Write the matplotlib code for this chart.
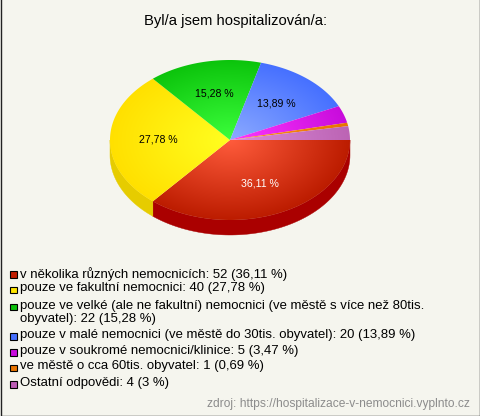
import numpy as np
import matplotlib
matplotlib.use("Agg")
import matplotlib.pyplot as plt
from matplotlib.path import Path
from matplotlib.patches import PathPatch, Rectangle

title = "Byl/a jsem hospitalizován/a:"
source = "zdroj: https://hospitalizace-v-nemocnici.vyplnto.cz"
labels = ["v několika různých nemocnicích: 52 (36,11 %)",
          "pouze ve fakultní nemocnici: 40 (27,78 %)",
          "pouze ve velké (ale ne fakultní) nemocnici (ve městě s více než 80tis.\nobyvatel): 22 (15,28 %)",
          "pouze v malé nemocnici (ve městě do 30tis. obyvatel): 20 (13,89 %)",
          "pouze v soukromé nemocnici/klinice: 5 (3,47 %)",
          "ve městě o cca 60tis. obyvatel: 1 (0,69 %)",
          "Ostatní odpovědi: 4 (3 %)"]
values = [52, 40, 22, 20, 5, 1, 4]
pct_labels = ["36,11 %", "27,78 %", "15,28 %", "13,89 %", "", "", ""]
pct_colors = ["white", "black", "black", "black", "black", "black", "black"]
inner = ["#FF5C3C", "#FFFF20", "#3CFF3C", "#8CAAFF", "#FF38FF", "#FF9020", "#DC8CDC"]
outer = ["#BC1C00", "#FFE000", "#0CC40C", "#4670FF", "#C80CDC", "#E87400", "#BC64B4"]
side = ["#AA0000", "#E6CC00", "#0A9A0A", "#3355CC", "#A000B0", "#C06000", "#964F90"]
swatch = ["#C01C00", "#FFE600", "#0CC00C", "#4670FF", "#C80CDC", "#E87400", "#BC5CB4"]
label_y = [274.5, 290, 307, 336.5, 352.5, 368, 384.5]
BG = "#F5F5EE"

W, H = 480, 416
fig = plt.figure(figsize=(W/100, H/100), dpi=100, facecolor=BG)
ax = fig.add_axes([0, 0, 1, 1])
ax.set_xlim(0, W); ax.set_ylim(H, 0); ax.axis("off")
plt.rcParams["font.family"] = ["Liberation Sans", "DejaVu Sans"]

cx, cy, rx, ry, depth = 230, 140, 120, 80, 15
frac = np.array(values, float) / sum(values)
edges = np.concatenate([[0], np.cumsum(frac)]) * 2*np.pi

def hexrgb(c):
    return np.array(matplotlib.colors.to_rgb(c))

# side wall
for i in range(len(values)):
    a0, a1 = edges[i], min(edges[i+1], np.pi)
    if a0 >= np.pi:
        continue
    t = np.linspace(a0, a1, 80)
    xs = cx + rx*np.cos(t); ys = cy + ry*np.sin(t)
    pts = np.r_[np.c_[xs, ys], np.c_[xs, ys+depth][::-1]]
    ax.fill(pts[:, 0], pts[:, 1], color=side[i], lw=0.3, zorder=1)

# top slices with radial gradient
yy, xx = np.mgrid[cy-ry-2:cy+ry+2:400j, cx-rx-2:cx+rx+2:600j]
d = np.clip(np.hypot((xx-cx)/rx, (yy-cy)/ry), 0, 1)[..., None]
for i in range(len(values)):
    t = np.linspace(edges[i], edges[i+1], 120)
    pts = np.r_[[[cx, cy]], np.c_[cx+rx*np.cos(t), cy+ry*np.sin(t)], [[cx, cy]]]
    patch = PathPatch(Path(pts), fc="none", ec="none", transform=ax.transData)
    ax.add_patch(patch)
    img = hexrgb(inner[i])*(1-d) + hexrgb(outer[i])*d
    im = ax.imshow(img, extent=(cx-rx-2, cx+rx+2, cy+ry+2, cy-ry-2), zorder=2,
                   interpolation="bilinear", aspect="auto")
    im.set_clip_path(patch)
ax.set_xlim(0, W); ax.set_ylim(H, 0)

# percentage labels
for i, s in enumerate(pct_labels):
    if not s:
        continue
    m = (edges[i]+edges[i+1])/2
    ax.text(cx+rx*0.6*np.cos(m), cy+ry*0.6*np.sin(m), s, color=pct_colors[i],
            fontsize=7.6, ha="center", va="center", zorder=3, family="Liberation Sans")

ax.text(236, 21, title, fontsize=10.6, ha="center", va="center", color="black",
        family="Liberation Sans")
for s, y, c in zip(labels, label_y, swatch):
    ax.add_patch(Rectangle((10, y-3.5), 6.5, 6.5, fc=c, ec="black", lw=0.8, zorder=3))
    ax.text(20, y-7.5, s, fontsize=9.45, ha="left", va="top", color="black",
            family="Liberation Sans", linespacing=1.12)
ax.text(470, 404, source, fontsize=8.65, ha="right", va="center", color="#8C8C8C",
        family="Liberation Sans")
ax.add_patch(Rectangle((0.5, -2), W-1, H+1.5, fc="none", ec="#222222", lw=1, zorder=5))
fig.savefig("out.png", dpi=100, facecolor=BG)
